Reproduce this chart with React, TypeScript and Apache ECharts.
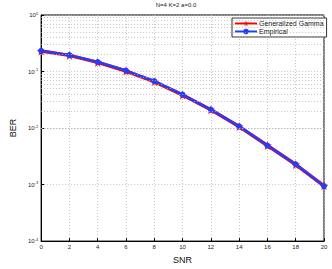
import React, { useEffect, useRef } from "react";
import * as echarts from "echarts";

const snr = [0, 2, 4, 6, 8, 10, 12, 14, 16, 18, 20];
const generalizedGamma = [0.231, 0.193, 0.145, 0.102, 0.066, 0.0385, 0.0211, 0.0106, 0.0049, 0.00226, 0.00095];
const empirical = [0.233, 0.195, 0.147, 0.104, 0.068, 0.039, 0.0212, 0.0107, 0.0049, 0.00228, 0.00094];
const minorGridValues = [
  2e-4, 3e-4, 4e-4, 5e-4, 6e-4, 7e-4, 8e-4, 9e-4,
  2e-3, 3e-3, 4e-3, 5e-3, 6e-3, 7e-3, 8e-3, 9e-3,
  2e-2, 3e-2, 4e-2, 5e-2, 6e-2, 7e-2, 8e-2, 9e-2,
  0.2, 0.3, 0.4, 0.5, 0.6, 0.7, 0.8, 0.9,
];
const titleText = "N=4 K=2 a=0.0";

const STAR = "path://M50,0 L61,35 L98,35 L68,57 L79,91 L50,70 L21,91 L32,57 L2,35 L39,35 Z";
const FONT = "Liberation Sans";

export default function App() {
  const ref = useRef<HTMLDivElement>(null);
  useEffect(() => {
    if (!ref.current) return;
    const chart = echarts.init(ref.current, undefined, { renderer: "svg" });
    const gridColor = "#b8b8b8";
    chart.setOption({
      animation: false,
      backgroundColor: "#fff",
      textStyle: { fontFamily: FONT },
      grid: { left: 29, right: 8, top: 15, bottom: 22, show: true, borderColor: "#000", borderWidth: 1, backgroundColor: "transparent" },
      graphic: [
        {
          type: "text",
          x: 176,
          y: 2,
          style: { text: titleText, fontSize: 6, fontFamily: FONT, fill: "#222", align: "center", verticalAlign: "top" },
        },
      ],
      legend: {
        orient: "vertical",
        left: 232,
        top: 18,
        padding: [2, 3, 2, 2],
        itemGap: 1,
        itemWidth: 22,
        itemHeight: 7,
        backgroundColor: "#fff",
        borderColor: "#000",
        borderWidth: 0.8,
        borderRadius: 0,
        textStyle: { fontSize: 7, fontFamily: FONT, color: "#111", padding: [0, 0, 0, -3] },
        data: ["Generalized Gamma", "Empirical"],
      },
      xAxis: {
        type: "value",
        min: 0,
        max: 20,
        interval: 2,
        name: "SNR",
        nameLocation: "middle",
        nameGap: 13,
        nameTextStyle: { fontSize: 9, fontFamily: FONT, color: "#111" },
        axisLine: { lineStyle: { color: "#000" } },
        axisTick: { inside: true, length: 3, lineStyle: { color: "#000" } },
        axisLabel: { fontSize: 6, color: "#222", margin: 3, fontFamily: FONT },
        splitLine: { show: true, lineStyle: { color: gridColor, type: [1, 2], width: 0.8 } },
      },
      yAxis: {
        type: "log",
        logBase: 10,
        min: 1e-4,
        max: 1,
        name: "BER",
        nameLocation: "middle",
        nameGap: 20,
        nameTextStyle: { fontSize: 9, fontFamily: FONT, color: "#111" },
        axisLine: { lineStyle: { color: "#000" } },
        axisTick: { inside: true, length: 3, lineStyle: { color: "#000" } },
        axisLabel: {
          margin: 3,
          formatter: (v: number) => `{b|10}{s|${Math.round(Math.log10(v))}}`,
          rich: {
            b: { fontSize: 6, color: "#222", fontFamily: FONT },
            s: { fontSize: 4, color: "#222", fontFamily: FONT, verticalAlign: "top", padding: [0, 0, 4, 0] },
          },
        },
        splitLine: { show: true, lineStyle: { color: gridColor, type: [1, 2], width: 0.8 } },
      },
      series: [
        {
          name: "grid-minor",
          type: "line",
          data: snr.map((x, i) => [x, empirical[i]]),
          showSymbol: false,
          symbol: "none",
          silent: true,
          lineStyle: { opacity: 0 },
          tooltip: { show: false },
          markLine: {
            silent: true,
            symbol: "none",
            label: { show: false },
            lineStyle: { color: gridColor, type: [1, 2], width: 0.8 },
            data: minorGridValues.map((v) => ({ yAxis: v })),
          },
        },
        {
          name: "Generalized Gamma",
          type: "line",
          data: snr.map((x, i) => [x, generalizedGamma[i]]),
          symbol: STAR,
          symbolSize: 9,
          color: "#ff0000",
          itemStyle: { color: "#ff0000" },
          lineStyle: { color: "#ff0000", width: 3.5 },
        },
        {
          name: "Empirical",
          type: "line",
          data: snr.map((x, i) => [x, empirical[i]]),
          symbol: "circle",
          symbolSize: 6,
          color: "#1f3fff",
          itemStyle: { color: "#1f3fff" },
          lineStyle: { color: "#1f3fff", width: 2.5 },
        },
      ],
    });
    return () => chart.dispose();
  }, []);
  return <div ref={ref} style={{ width: 332, height: 269, position: "absolute", left: 0, top: 0 }} />;
}
